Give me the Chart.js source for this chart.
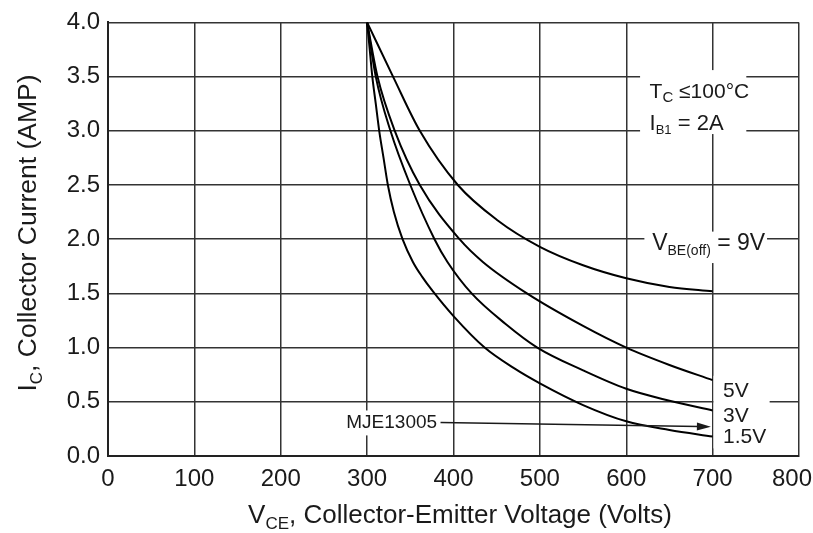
<!DOCTYPE html>
<html>
<head>
<meta charset="utf-8">
<script src="https://cdn.jsdelivr.net/npm/chart.js@4.4.0/dist/chart.umd.min.js"></script>
<style>
  html, body { margin: 0; padding: 0; background: #fff; }
  #wrap { width: 813px; height: 533px; }
</style>
</head>
<body>
<div id="wrap"><canvas id="chart"></canvas></div>
<script>
// courbes VCE (V) / IC (A)
const vce9 = [300, 330, 361, 405, 450, 500, 550, 600, 650, 700];
const ic9  = [4.0, 3.5, 3.0, 2.5, 2.18, 1.93, 1.76, 1.64, 1.56, 1.52];
const vce5 = [300, 312, 332, 361, 407, 434, 485, 550, 600, 650, 700];
const ic5  = [4.0, 3.5, 3.0, 2.5, 2.0, 1.79, 1.5, 1.2, 1.0, 0.84, 0.70];
const vce3 = [300, 310, 327, 350, 378, 393, 421, 460, 497, 550, 600, 650, 700];
const ic3  = [4.0, 3.5, 3.0, 2.5, 2.0, 1.79, 1.5, 1.22, 1.0, 0.79, 0.62, 0.51, 0.42];
const vce15 = [300, 303, 306, 310, 314, 319, 324, 331, 341, 353, 364, 376, 400, 436, 470, 500, 550, 600, 650, 700];
const ic15  = [4.0, 3.75, 3.5, 3.25, 3.0, 2.75, 2.5, 2.25, 2.0, 1.79, 1.65, 1.52, 1.29, 1.0, 0.81, 0.67, 0.47, 0.32, 0.24, 0.18];

// flèche MJE13005 (début, pointe)
const arrowV = [385, 698];
const arrowI = [0.31, 0.27];

const xTicks = [0, 100, 200, 300, 400, 500, 600, 700, 800];
const yTicks = [0.0, 0.5, 1.0, 1.5, 2.0, 2.5, 3.0, 3.5, 4.0];

const FONT = '"Liberation Sans", Arial, sans-serif';
const ink = '#1a1a1a';
const tickSize = 24;

function pts(xs, ys) { return xs.map((x, i) => ({ x: x, y: ys[i] })); }
function curve(xs, ys) {
  return {
    data: pts(xs, ys), showLine: true, borderColor: '#000', borderWidth: 2,
    pointRadius: 0, fill: false, cubicInterpolationMode: 'monotone'
  };
}

// texte avec indices : [texte, taille, décalage vertical]
function rich(ctx, x, y, parts, align) {
  let w = 0;
  parts.forEach(p => { ctx.font = p[1] + 'px ' + FONT; w += ctx.measureText(p[0]).width; });
  let cx = align === 'center' ? x - w / 2 : (align === 'right' ? x - w : x);
  ctx.textAlign = 'left';
  ctx.textBaseline = 'alphabetic';
  parts.forEach(p => {
    ctx.font = p[1] + 'px ' + FONT;
    ctx.fillText(p[0], cx, y + (p[2] || 0));
    cx += ctx.measureText(p[0]).width;
  });
}

// zones blanches qui coupent la grille sous les étiquettes
const gaps = [
  [616, 739, 3.56, 2.97],
  [621, 763, 2.07, 1.78],
  [701, 766, 0.74, 0.07],
  [266, 384, 0.42, 0.19]
];

const annot = {
  id: 'annot',
  beforeDatasetsDraw(chart) {
    const { ctx, scales: { x, y } } = chart;
    ctx.save();
    ctx.fillStyle = '#fff';
    gaps.forEach(g => {
      const x0 = x.getPixelForValue(g[0]), x1 = x.getPixelForValue(g[1]);
      const y0 = y.getPixelForValue(g[2]), y1 = y.getPixelForValue(g[3]);
      ctx.fillRect(x0, y0, x1 - x0, y1 - y0);
    });
    ctx.restore();
  },
  afterDraw(chart) {
    const { ctx, scales: { x, y } } = chart;
    ctx.save();
    ctx.fillStyle = ink;
    ctx.strokeStyle = ink;

    // dernier libellé de l'axe x, calé sur le bord droit
    ctx.font = tickSize + 'px ' + FONT;
    ctx.textAlign = 'right';
    ctx.textBaseline = 'middle';
    ctx.fillText(String(xTicks[xTicks.length - 1]), chart.width - 1, x.top + 9 + tickSize * 0.6);

    // titres des axes
    rich(ctx, 460, 523, [['V', 26], ['CE', 17, 6], [', Collector-Emitter Voltage (Volts)', 26]], 'center');
    ctx.save();
    ctx.translate(36, 233);
    ctx.rotate(-Math.PI / 2);
    rich(ctx, 0, 0, [['I', 26.5], ['C', 17, 6], [', Collector Current (AMP)', 26.5]], 'center');
    ctx.restore();

    // conditions
    rich(ctx, x.getPixelForValue(627), y.getPixelForValue(3.30), [['T', 21], ['C', 15, 4], [' \u2264100\u00b0C', 21]]);
    rich(ctx, x.getPixelForValue(627), y.getPixelForValue(3.01), [['I', 22], ['B1', 13, 4], [' = 2A', 22]]);
    rich(ctx, x.getPixelForValue(630), y.getPixelForValue(1.90), [['V', 23], ['BE(off)', 14, 5], [' = 9V', 23]]);

    ctx.font = '21px ' + FONT;
    ctx.textAlign = 'left';
    ctx.textBaseline = 'alphabetic';
    ctx.fillText('5V', x.getPixelForValue(712), y.getPixelForValue(0.54));
    ctx.fillText('3V', x.getPixelForValue(712), y.getPixelForValue(0.31));
    ctx.fillText('1.5V', x.getPixelForValue(712), y.getPixelForValue(0.12));

    // MJE13005 + flèche
    ctx.font = '19px ' + FONT;
    ctx.textAlign = 'right';
    ctx.fillText('MJE13005', x.getPixelForValue(381), y.getPixelForValue(0.26));
    const ax0 = x.getPixelForValue(arrowV[0]), ay0 = y.getPixelForValue(arrowI[0]);
    const ax1 = x.getPixelForValue(arrowV[1]), ay1 = y.getPixelForValue(arrowI[1]);
    const ang = Math.atan2(ay1 - ay0, ax1 - ax0);
    ctx.lineWidth = 1.5;
    ctx.beginPath();
    ctx.moveTo(ax0, ay0);
    ctx.lineTo(ax1 - 12 * Math.cos(ang), ay1 - 12 * Math.sin(ang));
    ctx.stroke();
    ctx.beginPath();
    ctx.moveTo(ax1, ay1);
    ctx.lineTo(ax1 - 14 * Math.cos(ang) + 4 * Math.sin(ang), ay1 - 14 * Math.sin(ang) - 4 * Math.cos(ang));
    ctx.lineTo(ax1 - 14 * Math.cos(ang) - 4 * Math.sin(ang), ay1 - 14 * Math.sin(ang) + 4 * Math.cos(ang));
    ctx.closePath();
    ctx.fill();
    ctx.restore();
  }
};

new Chart(document.getElementById('chart'), {
  type: 'scatter',
  data: {
    datasets: [curve(vce9, ic9), curve(vce5, ic5), curve(vce3, ic3), curve(vce15, ic15)]
  },
  options: {
    responsive: true,
    maintainAspectRatio: false,
    animation: false,
    layout: { padding: { top: 19, right: 14, left: 0, bottom: 0 } },
    plugins: { legend: { display: false }, tooltip: { enabled: false } },
    scales: {
      x: {
        type: 'linear', min: 0, max: 800,
        afterBuildTicks: s => { s.ticks = xTicks.map(v => ({ value: v })); },
        afterFit: s => { s.height = 77; s.paddingRight = 0; s.paddingLeft = 0; },
        grid: { color: '#333', lineWidth: 1.5, drawTicks: false },
        border: { color: '#222', width: 2 },
        ticks: {
          color: c => c.tick && c.tick.value === 800 ? 'rgba(0,0,0,0)' : ink,
          padding: 9, maxRotation: 0, font: { size: tickSize, family: FONT }
        }
      },
      y: {
        type: 'linear', min: 0, max: 4,
        afterBuildTicks: s => { s.ticks = yTicks.map(v => ({ value: v })); },
        afterFit: s => { s.width = 108; },
        grid: { color: '#333', lineWidth: 1.5, drawTicks: false },
        border: { color: '#222', width: 2 },
        ticks: { color: ink, padding: 8, font: { size: tickSize, family: FONT }, callback: v => v.toFixed(1) }
      }
    }
  },
  plugins: [annot]
});
</script>
</body>
</html>
